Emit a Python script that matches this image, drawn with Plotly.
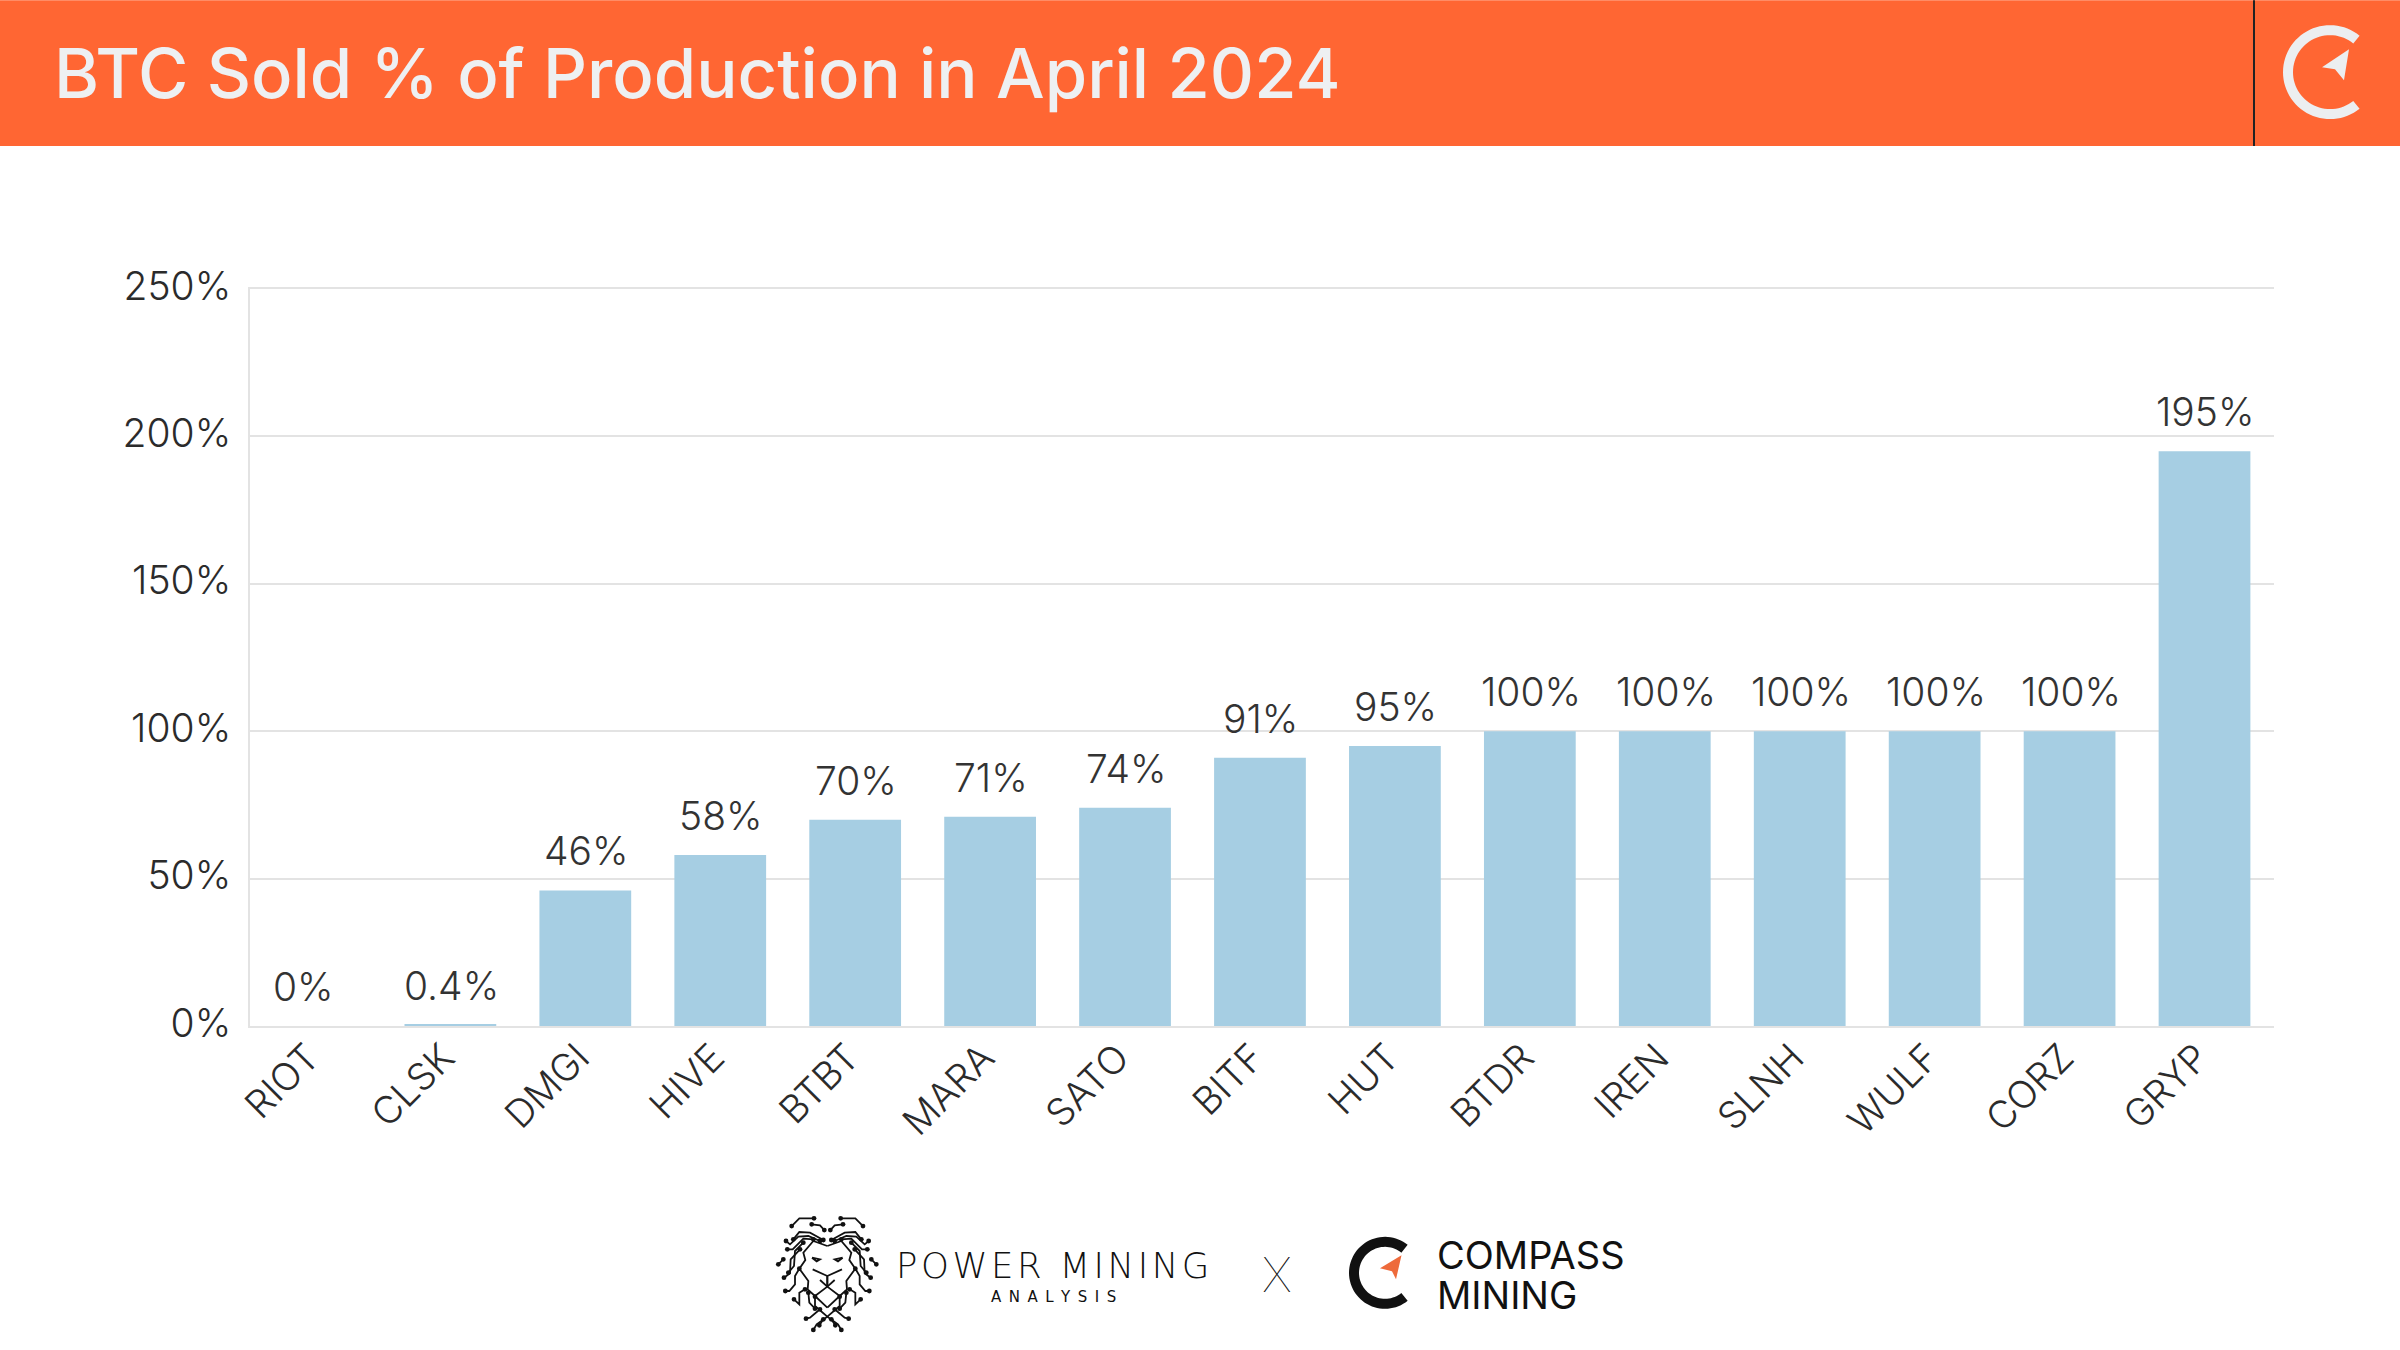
import math
import plotly.graph_objects as go

tickers = ["RIOT","CLSK","DMGI","HIVE","BTBT","MARA","SATO","BITF","HUT","BTDR","IREN","SLNH","WULF","CORZ","GRYP"]
sold_pct = [0,0.4,46,58,70,71,74,91,95,100,100,100,100,100,195]
bar_labels = ["0%","0.4%","46%","58%","70%","71%","74%","91%","95%","100%","100%","100%","100%","100%","195%"]
y_ticks = [0,50,100,150,200,250]
y_tick_labels = ["0%","50%","100%","150%","200%","250%"]
title = "BTC Sold % of Production in April 2024"

W, H = 2400, 1350
L, R, T, B = 250, 2274, 289, 1026.5
FONT = "Inter"
px = lambda x: (x - L) / (R - L)
py = lambda y: (B - y) / (B - T)

def path(points, close=False):
    s = "M " + " L ".join(f"{px(x):.5f},{py(y):.5f}" for x, y in points)
    return s + (" Z" if close else "")

def ring(cx, cy, r_out, r_in, gap):
    pts = []
    n = 60
    for i in range(n + 1):
        a = math.radians(gap + (360 - 2 * gap) * i / n)
        pts.append((cx + r_out * math.cos(a), cy - r_out * math.sin(a)))
    for i in range(n, -1, -1):
        a = math.radians(gap + (360 - 2 * gap) * i / n)
        pts.append((cx + r_in * math.cos(a), cy - r_in * math.sin(a)))
    return path(pts, True)

fig = go.Figure(go.Bar(x=tickers, y=sold_pct, marker_color="#a6cee3", marker_line_width=0, width=0.68, hoverinfo="skip"))

paper = dict(xref="paper", yref="paper")
shapes = [
    dict(type="rect", **paper, x0=px(0), x1=px(W), y0=py(0), y1=py(146), fillcolor="#ff6633", line_width=0, layer="below"),
    dict(type="line", **paper, x0=px(2254), x1=px(2254), y0=py(0), y1=py(146), line=dict(color="#222222", width=2)),
    dict(type="path", **paper, path=ring(2330, 72, 47, 37, 51), fillcolor="#eceef0", line_width=0),
    dict(type="path", **paper, path=path([(2349,49),(2322,67),(2335,69),(2344,80)], True), fillcolor="#eceef0", line_width=0),
    dict(type="path", **paper, path=ring(1385, 1273.5, 36, 26, 51), fillcolor="#111111", line_width=0),
    dict(type="path", **paper, path=path([(1401.5,1256),(1380,1269),(1392,1272),(1396,1280)], True), fillcolor="#ee6a3b", line_width=0),
]

# Lion emblem: left-half circuit traces in a 3x crop frame, mirrored about the centre line
LION_X0, LION_Y0, LION_AXIS = 770, 1210, 172
face = [
    [(172,110),(130,95),(100,130),(106,152),(88,178),(115,215),(113,240),(135,260),(172,295)],
    [(128,180),(172,200),(172,232),(135,260)],
    [(126,145),(150,150),(140,156),(126,145)],
    [(172,232),(150,212)],
]
mane = [
    [(132,27),(88,27),(65,50)],
    [(125,45),(150,48),(163,62)],
    [(160,92),(120,70),(88,68),(70,90)],
    [(150,95),(115,80),(85,82),(60,105),(48,95)],
    [(130,90),(100,88),(68,120),(52,120)],
    [(100,100),(75,125),(72,170),(55,190)],
    [(90,120),(62,150),(60,192),(42,205)],
    [(40,150),(25,165)],
    [(88,178),(75,200),(75,225),(58,245),(46,245)],
    [(105,240),(88,250),(88,285),(72,270)],
    [(115,250),(118,280),(135,298)],
    [(135,262),(135,290),(172,322),(140,345),(130,362)],
    [(150,300),(120,325),(108,328)],
    [(160,330),(148,348)],
]
def lion_pt(p, sign):
    return (LION_X0 + (LION_AXIS + sign * (p[0] - LION_AXIS)) / 3, LION_Y0 + p[1] / 3)
for sign in (1, -1):
    for tr in face + mane:
        shapes.append(dict(type="path", **paper, line=dict(color="#111111", width=1.8),
                           path=path([lion_pt(p, sign) for p in tr])))
    for tr in mane:
        for end in (tr[0], tr[-1]):
            x, y = lion_pt(end, sign)
            shapes.append(dict(type="circle", **paper, x0=px(x - 2.4), x1=px(x + 2.4), y0=py(y + 2.4), y1=py(y - 2.4),
                               fillcolor="#111111", line_width=0))

def free_text(x, y, text, anchor, font):
    return dict(x=0, y=0, **paper, xshift=x - L, yshift=B - y, text=text, showarrow=False,
                xanchor=anchor, yanchor="middle", font=font)

annotations = [
    free_text(52, 73, title, "left", dict(family=FONT, size=68.7, color="#eef0f2", weight=500)),
    free_text(1052, 1266, "P\u200aO\u200aW\u200aE\u200aR\u2002M\u200aI\u200aN\u200aI\u200aN\u200aG", "center", dict(family="DejaVu Sans", size=35.5, color="#111111", weight=200)),
    free_text(1053, 1297, "A\u2002N\u2002A\u2002L\u2002Y\u2002S\u2002I\u2002S", "center", dict(family="DejaVu Sans", size=15, color="#111111")),
    free_text(1277, 1275, "X", "center", dict(family=FONT, size=48, color="#111111", weight=100)),
    free_text(1435, 1255, "COMPASS", "left", dict(family=FONT, size=38, color="#111111")),
    free_text(1435, 1295, "MINING", "left", dict(family=FONT, size=38, color="#111111")),
]
for t, v, lab in zip(tickers, sold_pct, bar_labels):
    annotations.append(dict(x=t, y=v, text=lab, showarrow=False, yanchor="bottom", yshift=14,
                            xshift=-12 if t == "RIOT" else 1,
                            font=dict(family=FONT, size=39, color="#333333", weight=300)))

fig.update_layout(
    width=W, height=H, margin=dict(l=L, r=W - R, t=T, b=H - B, pad=0), autosize=False,
    paper_bgcolor="white", plot_bgcolor="white", showlegend=False, shapes=shapes, annotations=annotations,
    font=dict(family=FONT, color="#2b2b2b"),
    xaxis=dict(type="category", categoryorder="array", categoryarray=tickers, range=[-0.485, 14.515], tickangle=-45, ticks="", mirror=True,
               ticklabelshift=-7, ticklabelstandoff=-8,
               tickfont=dict(family=FONT, size=38, color="#2b2b2b", weight=300), showline=True, linecolor="#e3e3e3", linewidth=2, showgrid=False),
    yaxis=dict(range=[0, 250], tickvals=y_ticks, ticktext=y_tick_labels, ticks="", showline=True, linecolor="#e3e3e3", linewidth=2,
               gridcolor="#e3e3e3", gridwidth=2, zeroline=False, ticklabelstandoff=9, ticklabelshift=-3,
               tickfont=dict(family=FONT, size=39, color="#2b2b2b", weight=300)),
)
fig.write_html("out.html", config={"displayModeBar": False}, post_script="document.body.style.margin='0';")
